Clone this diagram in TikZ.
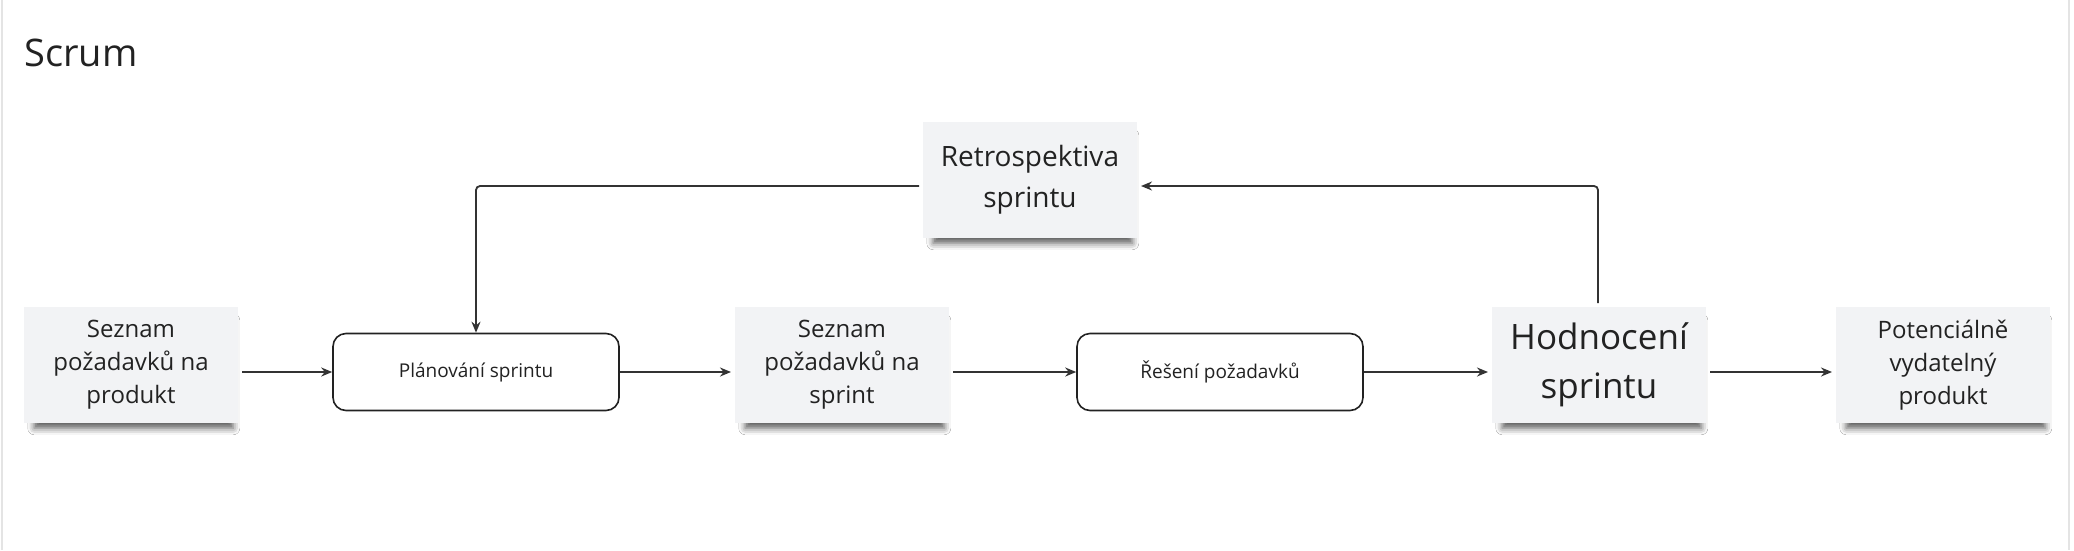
\documentclass[tikz,border=0pt]{standalone}
\usepackage{fontspec}
\setmainfont{Open Sans}
\usetikzlibrary{arrows.meta,shadows.blur}
\definecolor{notefill}{HTML}{F2F3F5}
\definecolor{ink}{HTML}{222222}
\definecolor{wire}{HTML}{333333}
\definecolor{frame}{HTML}{E4E4E4}
\tikzset{
  note/.style={fill=notefill, minimum width=214pt, minimum height=116pt, inner sep=0pt,
    outer sep=4pt, align=center, text=ink,
    blur shadow={shadow xshift=3pt, shadow yshift=-10pt, shadow scale=0.93, shadow opacity=65, shadow blur radius=7pt}},
  proc/.style={draw=ink, line width=1.6pt, rounded corners=13pt, fill=white,
    minimum width=286pt, minimum height=77pt, inner sep=0pt, align=center, text=ink,
    font=\fontsize{19}{24}\selectfont},
  flow/.style={draw=wire, line width=1.8pt, -{Stealth[length=11pt,width=9pt]}, rounded corners=4pt},
  normtxt/.style={font=\fontsize{24}{33}\selectfont},
}
\begin{document}
\begin{tikzpicture}[x=1pt,y=-1pt]
\useasboundingbox[fill=white] (0,0) rectangle (2074,550);
\draw[frame, line width=2pt] (2,0) -- (2,550);
\draw[frame, line width=2pt] (2069,0) -- (2069,550);
\node[anchor=west, text=ink, font=\fontsize{38}{45}\selectfont] (title) at (21,53) {Scrum};

\node[note, normtxt] (n1) at (131,365) {Seznam\\požadavků na\\produkt};
\node[proc] (plan) at (476,372) {Plánování sprintu};
\node[note, normtxt] (n3) at (842,365) {Seznam\\požadavků na\\sprint};
\node[proc] (res) at (1220,372) {Řešení požadavků};
\node[note, font=\fontsize{35}{49}\selectfont] (hod) at (1599,365) {Hodnocení\\sprintu};
\node[note, normtxt] (pot) at (1943,365) {Potenciálně\\vydatelný\\produkt};
\node[note, font=\fontsize{28}{41}\selectfont] (retro) at (1030,180) {Retrospektiva\\sprintu};

\coordinate (c1) at (1598,186);
\coordinate (c2) at (476,186);

\draw[flow] (n1.east |- plan.west) -- (plan.west);
\draw[flow] (plan.east) -- (n3.west |- plan.east);
\draw[flow] (n3.east |- res.west) -- (res.west);
\draw[flow] (res.east) -- (hod.west |- res.east);
\draw[flow] (hod.east |- res.east) -- (pot.west |- res.east);
\draw[flow] (hod.north -| c1) -- (c1) -- (retro.east |- c1);
\draw[flow] (retro.west |- c2) -- (c2) -- (plan.north);
\end{tikzpicture}
\end{document}
